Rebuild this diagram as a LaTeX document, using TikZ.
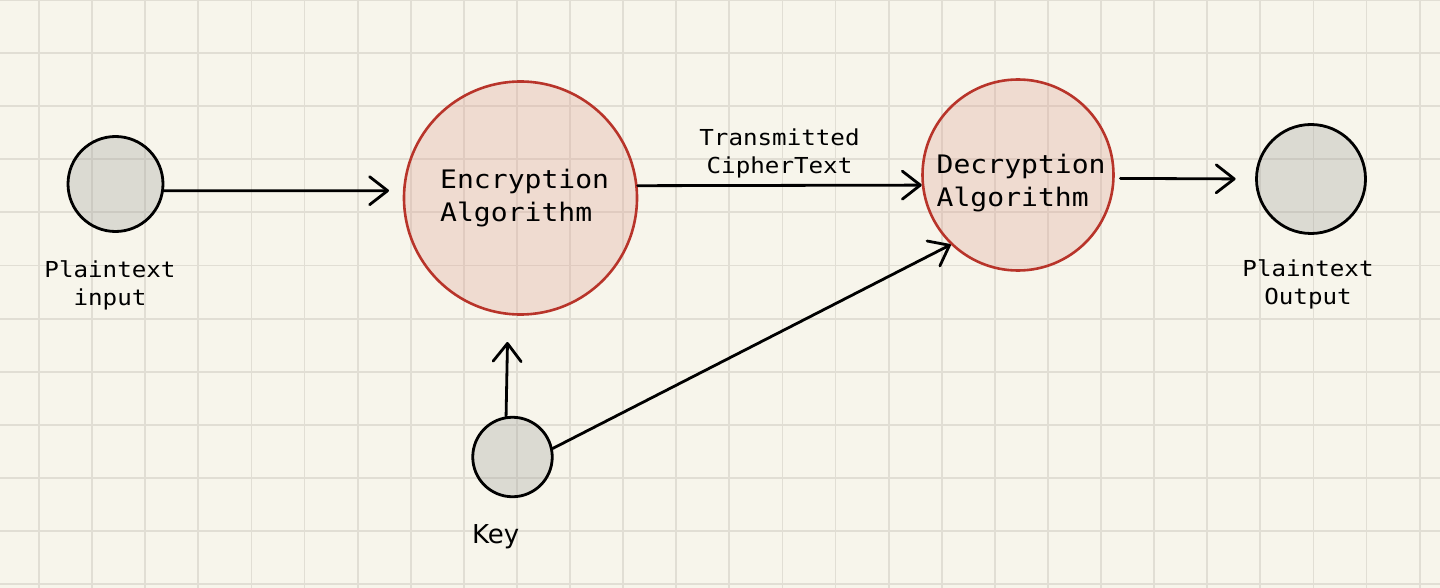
\documentclass[tikz,border=0pt]{standalone}
\usepackage{fontspec}
\newfontfamily\monofam[FakeStretch=1.1]{DejaVu Sans Mono}
\newfontfamily\keyfam{DejaVu Sans}
\usetikzlibrary{arrows.meta}
\definecolor{paper}{RGB}{247,245,235}
\definecolor{gridc}{RGB}{225,222,212}
\definecolor{grayfill}{RGB}{157,158,155}
\definecolor{redfill}{RGB}{222,160,148}
\definecolor{redline}{RGB}{184,52,42}
\tikzset{
  gridline/.style={draw=gridc, line width=1.8pt},
  graynode/.style={circle, draw=black, line width=2.8pt, fill=grayfill, fill opacity=0.3, inner sep=0pt},
  rednode/.style={circle, draw=redline, line width=2.6pt, fill=redfill, fill opacity=0.3, inner sep=0pt},
  smalltxt/.style={font=\monofam\fontsize{22}{28}\selectfont, align=center, inner sep=0pt, anchor=base},
  bigtxt/.style={font=\monofam\fontsize{25.5}{33}\selectfont, align=left, inner sep=0pt, anchor=base west},
  keytxt/.style={font=\keyfam\fontsize{26}{31}\selectfont, inner sep=0pt, anchor=base west},
  arr/.style={draw=black, line width=2.8pt, line cap=round, -{Straight Barb[length=18pt,width=28pt,round]}}
}
\begin{document}
\begin{tikzpicture}[x=1pt,y=-1pt]
\fill[paper] (0,0) rectangle (1440,588);
\useasboundingbox (0,0) rectangle (1440,588);
\foreach \i in {0,...,26} \draw[gridline] ({39+53.1*\i},0) -- ({39+53.1*\i},588);
\foreach \j in {0,...,11} \draw[gridline] (0,{53.1*\j}) -- (1440,{53.1*\j});

% nodes
\node[graynode, minimum size=95pt] (pin) at (115.5,184) {};
\node[rednode, minimum size=233pt] (enc) at (520.5,198) {};
\node[rednode, minimum size=191pt] (dec) at (1018,175) {};
\node[graynode, minimum size=109pt] (out) at (1311,179) {};
\node[graynode, minimum size=79.5pt] (key) at (512.5,457) {};

% texts (anchored at the baseline of the last line)
\node[smalltxt] (pinlbl) at (110,305) {Plaintext\\input};
\node[smalltxt] (outlbl) at (1308,304) {Plaintext\\Output};
\node[smalltxt] (translbl) at (779.5,174) {Transmitted\\CipherText};
\node[bigtxt] (enclbl) at (440,222) {Encryption\\Algorithm};
\node[bigtxt] (declbl) at (936.5,207) {Decryption\\Algorithm};
\node[keytxt] (keylbl) at (472,543) {Key};

% free ends
\coordinate (pintip) at (389,190.7);
\coordinate (keytip) at (507.5,342);

% connectors
\draw[arr] (pin.-8) -- (pintip);
\draw[arr] (enc.6.4) -- (dec.186);
\draw[arr, shorten <=5.6pt, shorten >=19.5pt] (dec.-2.4) -- (out.west);
\draw[arr] (key.99.5) -- (keytip);
\draw[arr] (key.12.5) -- (dec.226.8);
\end{tikzpicture}
\end{document}
